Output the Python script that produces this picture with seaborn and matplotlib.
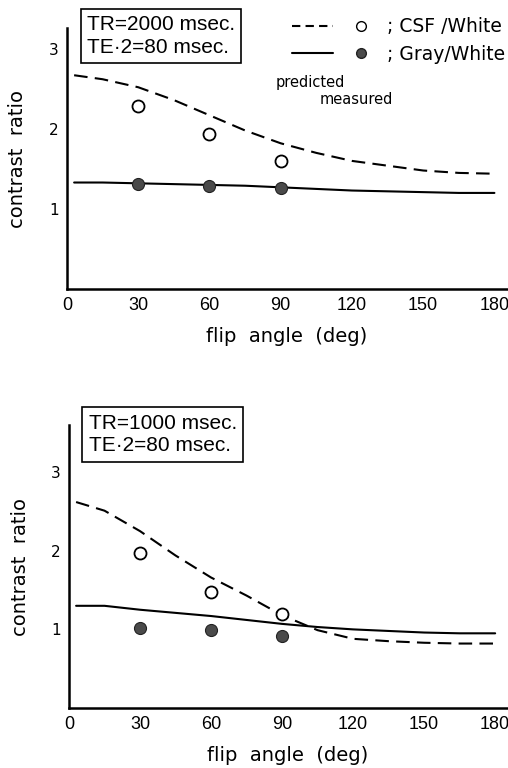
import matplotlib
matplotlib.use('Agg')
import matplotlib.pyplot as plt
import pandas as pd
import seaborn as sns
from matplotlib import font_manager
from matplotlib.lines import Line2D
from matplotlib.legend_handler import HandlerTuple

sns.set_style('white')
plt.rcParams['font.family'] = ['DejaVu Sans']
plt.rcParams['text.color'] = 'black'
plt.rcParams['axes.labelcolor'] = 'black'
plt.rcParams['xtick.color'] = 'black'
plt.rcParams['ytick.color'] = 'black'

# predicted curves (flip angle in degrees)
angle_pred = [3, 15, 30, 45, 60, 75, 90, 105, 120, 135, 150, 165, 180]
csf_pred_2000 = [2.67, 2.62, 2.52, 2.36, 2.17, 1.98, 1.82, 1.70, 1.60, 1.54, 1.48, 1.45, 1.44]
gray_pred_2000 = [1.33, 1.33, 1.32, 1.31, 1.30, 1.29, 1.27, 1.25, 1.23, 1.22, 1.21, 1.20, 1.20]
csf_pred_1000 = [2.62, 2.51, 2.25, 1.94, 1.66, 1.43, 1.18, 0.99, 0.88, 0.85, 0.83, 0.82, 0.82]
gray_pred_1000 = [1.30, 1.30, 1.25, 1.21, 1.17, 1.12, 1.07, 1.03, 1.00, 0.98, 0.96, 0.95, 0.95]

# measured points
angle_meas = [30, 60, 90]
csf_meas_2000 = [2.29, 1.93, 1.60]
gray_meas_2000 = [1.31, 1.29, 1.26]
csf_meas_1000 = [1.97, 1.48, 1.19]
gray_meas_1000 = [1.02, 0.99, 0.92]

x_ticks = [0, 30, 60, 90, 120, 150, 180]
y_major = [1, 2, 3]
y_minor = [0.5, 1.5, 2.5]

# pick a narrow face for the digits if one is installed
installed = {f.name for f in font_manager.fontManager.ttflist}
narrow_name = 'Liberation Sans Narrow' if 'Liberation Sans Narrow' in installed else 'Liberation Sans'
narrow = [narrow_name, 'DejaVu Sans']

panels = [
    dict(rect=[67 / 508, 1 - 289 / 768, 440 / 508, 261 / 768], ylim=(0, 3.26), xlim=(0, 185.3),
         csf=csf_pred_2000, gray=gray_pred_2000, csf_m=csf_meas_2000, gray_m=gray_meas_2000,
         label='TR=2000 msec.\nTE·2=80 msec.', box=(0.045, 1.05)),
    dict(rect=[69 / 508, 1 - 708 / 768, 438 / 508, 283 / 768], ylim=(0, 3.6), xlim=(0, 185),
         csf=csf_pred_1000, gray=gray_pred_1000, csf_m=csf_meas_1000, gray_m=gray_meas_1000,
         label='TR=1000 msec.\nTE·2=80 msec.', box=(0.045, 1.04)),
]

fig = plt.figure(figsize=(5.08, 7.68), dpi=100)

for p in panels:
    ax = fig.add_axes(p['rect'])
    df_pred = pd.DataFrame({'angle': angle_pred, 'csf': p['csf'], 'gray': p['gray']})
    df_meas = pd.DataFrame({'angle': angle_meas, 'csf': p['csf_m'], 'gray': p['gray_m']})

    sns.lineplot(data=df_pred, x='angle', y='csf', ax=ax, color='black', lw=1.5,
                 linestyle=(0, (6.5, 3.5)))
    sns.lineplot(data=df_pred, x='angle', y='gray', ax=ax, color='black', lw=1.5)
    sns.scatterplot(data=df_meas, x='angle', y='csf', ax=ax, s=75, facecolor='white',
                    edgecolor='black', linewidth=1.3, zorder=5)
    sns.scatterplot(data=df_meas, x='angle', y='gray', ax=ax, s=75, color='#4a4a4a',
                    edgecolor='#222222', linewidth=0.8, zorder=5)

    ax.set_xlim(*p['xlim'])
    ax.set_ylim(*p['ylim'])
    ax.set_xticks(x_ticks)
    ax.set_xticklabels([str(t) for t in x_ticks], fontsize=13, family=narrow)
    ax.set_yticks(y_major)
    ax.set_yticklabels([str(t) for t in y_major], fontsize=11)
    ax.set_yticks(y_minor, minor=True)
    ax.tick_params(axis='both', which='both', direction='in', length=5, width=1.2, color='black')
    ax.tick_params(axis='x', pad=6)
    ax.tick_params(axis='y', pad=6)
    for side in ['top', 'right']:
        ax.spines[side].set_visible(False)
    for side in ['left', 'bottom']:
        ax.spines[side].set_linewidth(1.8)
        ax.spines[side].set_color('black')

    ax.set_xlabel('flip  angle  (deg)', fontsize=14, labelpad=9)
    ax.set_ylabel('contrast  ratio', fontsize=14)
    ax.yaxis.set_label_coords(-0.09, 0.5)

    ax.text(p['box'][0], p['box'][1], p['label'], transform=ax.transAxes, fontsize=15,
            family=narrow, va='top', ha='left', linespacing=1.25,
            bbox=dict(boxstyle='square,pad=0.3', facecolor='white', edgecolor='black', lw=1.2))

# legend in the top panel
ax_top = fig.axes[0]
h_csf = (Line2D([], [], color='black', lw=1.5, linestyle=(0, (4, 2.5))),
         Line2D([], [], marker='o', markersize=7, markerfacecolor='white',
                markeredgecolor='black', linestyle='none'))
h_gray = (Line2D([], [], color='black', lw=1.5),
          Line2D([], [], marker='o', markersize=7, markerfacecolor='#4a4a4a',
                 markeredgecolor='#222222', linestyle='none'))
ax_top.legend([h_csf, h_gray], ['; CSF /White', '; Gray/White'],
              handler_map={tuple: HandlerTuple(ndivide=None, pad=0.4)},
              handlelength=4.8, fontsize=13.5, frameon=False, loc='upper right',
              bbox_to_anchor=(1.035, 1.105), labelspacing=0.45, handletextpad=0.3)
ax_top.text(0.475, 0.775, 'predicted', transform=ax_top.transAxes, fontsize=10.5, ha='left')
ax_top.text(0.575, 0.71, 'measured', transform=ax_top.transAxes, fontsize=10.5, ha='left')

fig.savefig('out.png', dpi=100)
